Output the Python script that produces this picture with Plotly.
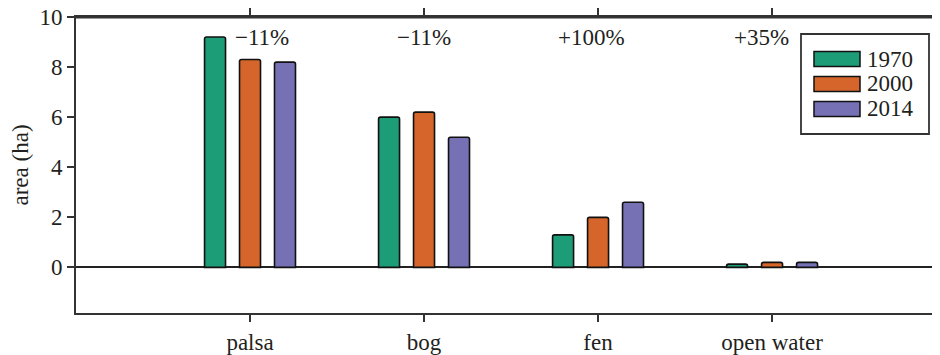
import plotly.graph_objects as go

categories = ["palsa", "bog", "fen", "open water"]
years = ["1970", "2000", "2014"]
values_1970 = [9.2, 6.0, 1.3, 0.13]
values_2000 = [8.3, 6.2, 2.0, 0.2]
values_2014 = [8.2, 5.2, 2.6, 0.2]
change_labels = ["\u221211%", "\u221211%", "+100%", "+35%"]
change_offsets = [0.07, 0.0, -0.04, -0.06]
y_ticks = [0, 2, 4, 6, 8, 10]

colors = ["#1c9d77", "#d5652b", "#7571b4"]
series = [values_1970, values_2000, values_2014]
FONT = "Liberation Serif, Times New Roman, serif"
TXT = "#231f20"
FS = 23

fig = go.Figure()
for name, vals, col in zip(years, series, colors):
    fig.add_trace(go.Bar(
        x=categories, y=vals, name=name,
        marker=dict(color=col, line=dict(color="#111111", width=1.6), cornerradius=2),
        showlegend=False,
    ))

# page body has an 8px default margin; compensate so the screenshot lines up
OFF = 8
W, H = 940, 355
ml, mr, mt, mb = 76 - OFF, 0, 17 - OFF, 42 + OFF

fig.update_layout(
    width=W, height=H,
    margin=dict(l=ml, r=mr, t=mt, b=mb, pad=0),
    paper_bgcolor="white", plot_bgcolor="white",
    barmode="group", bargap=0.397, bargroupgap=0.4,
    font=dict(family=FONT, size=FS, color=TXT),
    xaxis=dict(
        type="category", range=[-1, 4.011], automargin=False,
        showline=True, linecolor="#333333", linewidth=2, mirror="all",
        ticks="outside", ticklen=7, tickwidth=1.5, tickcolor="#333333",
        showgrid=False, zeroline=False,
        tickfont=dict(family=FONT, size=FS, color=TXT),
    ),
    yaxis=dict(
        range=[-1.82, 10], tickvals=y_ticks, automargin=False,
        showline=True, linecolor="#333333", linewidth=2, mirror=False,
        ticks="outside", ticklen=7, tickwidth=1.5, tickcolor="#333333",
        ticklabelstandoff=0, ticklabeloverflow="allow",
        showgrid=False, zeroline=True, zerolinecolor="#222222", zerolinewidth=1.5,
        tickfont=dict(family=FONT, size=FS, color=TXT),
        title=dict(text="area (ha)", font=dict(family=FONT, size=FS, color=TXT), standoff=28),
    ),
)

pw = W - ml - mr
ph = H - mt - mb

# top frame line (drawn explicitly, just inside the plot top)
fig.add_shape(type="line", xref="paper", yref="paper", x0=-1.0 / pw, x1=1,
              y0=1 - 0.5 / ph, y1=1 - 0.5 / ph,
              line=dict(color="#333333", width=2.2), layer="above")

# percent change labels
for i, (lab, off) in enumerate(zip(change_labels, change_offsets)):
    fig.add_annotation(x=i + off, y=9.17, xref="x", yref="y", text=lab,
                       showarrow=False, font=dict(family=FONT, size=FS, color=TXT),
                       xanchor="center", yanchor="middle")

# custom legend (screen pixel layout converted to paper coords)
def px(x):
    return (x - OFF - ml) / pw
def py(y):
    return 1 - (y - OFF - mt) / ph

fig.add_shape(type="rect", xref="paper", yref="paper",
              x0=px(801), x1=px(929), y0=py(134), y1=py(34),
              line=dict(color="#333333", width=1.8), fillcolor="white")
for k, (name, col) in enumerate(zip(years, colors)):
    cy = 59 + 25 * k
    fig.add_shape(type="rect", xref="paper", yref="paper",
                  x0=px(814), x1=px(860), y0=py(cy + 7.5), y1=py(cy - 7.5),
                  line=dict(color="#111111", width=1.5), fillcolor=col)
    fig.add_annotation(x=px(865), y=py(cy), xref="paper", yref="paper",
                       text=name, showarrow=False, xanchor="left", yanchor="middle",
                       font=dict(family=FONT, size=FS, color=TXT))

fig.write_html("out.html")
